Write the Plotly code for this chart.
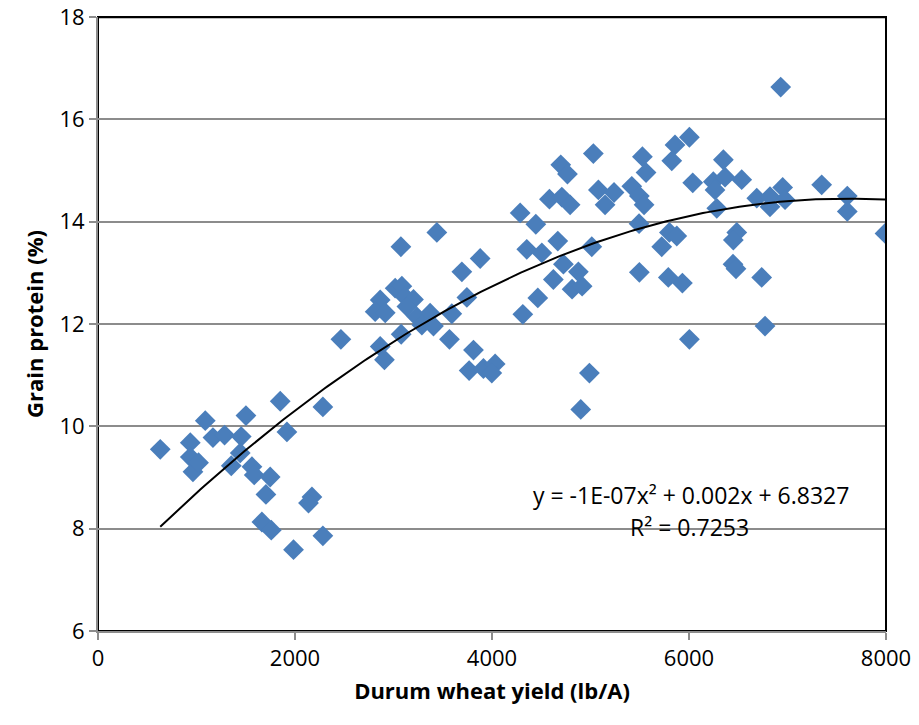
import numpy as np
import plotly.graph_objects as go

# Durum wheat yield (lb/A)
yield_lb = [
    632, 937, 937, 964, 1021, 1089, 1167, 1285, 1454, 1444, 1353, 1502, 1850, 1918,
    2283, 1563, 1586, 1748, 1705, 2172, 2137, 1664, 1759, 1985, 2283, 2466,
    2865, 2908, 3075, 3440, 2865, 2814, 2916, 3017, 3085, 3119, 3203, 3136, 3237,
    3372, 3288, 3406, 3078, 3592, 3568, 3694, 3880, 3745, 3812, 3768, 3913, 4032,
    3998, 4286, 4445, 4353, 4506, 4668, 4725, 4623, 4465, 4313, 4813, 4915, 4877,
    5013, 4989, 4901,
    5029, 4698, 4766, 4583, 4709, 4793, 5080, 5239, 5148, 5419, 5496, 5544, 5527,
    5564, 5858, 5825, 6004, 6038, 6247, 6349, 6264, 6282, 5493, 5496, 5801, 5876,
    5723, 5790, 5933, 6004,
    6931, 6366, 6535, 6688, 6822, 6822, 6951, 6975, 7347, 7607, 7607, 7990, 6485,
    6450, 6447, 6477, 6738, 6772,
]

# Grain protein (%)
protein = [
    9.55, 9.68, 9.40, 9.11, 9.29, 10.11, 9.78, 9.83, 9.80, 9.48, 9.23, 10.21, 10.49, 9.89,
    10.38, 9.21, 9.05, 9.01, 8.67, 8.62, 8.50, 8.13, 7.97, 7.59, 7.86, 11.70,
    11.56, 11.30, 13.51, 13.79, 12.47, 12.24, 12.22, 12.70, 12.74, 12.53, 12.48, 12.34, 12.14,
    12.21, 11.98, 11.96, 11.80, 12.20, 11.70, 13.02, 13.28, 12.52, 11.49, 11.09, 11.13, 11.22,
    11.04, 14.17, 13.95, 13.46, 13.39, 13.62, 13.17, 12.87, 12.51, 12.19, 12.68, 12.74, 13.02,
    13.51, 11.04, 10.33,
    15.33, 15.11, 14.93, 14.44, 14.48, 14.33, 14.62, 14.57, 14.33, 14.69, 14.50, 14.33, 15.27,
    14.96, 15.50, 15.19, 15.65, 14.76, 14.78, 15.21, 14.62, 14.26, 13.96, 13.01, 13.79, 13.72,
    13.51, 12.91, 12.80, 11.70,
    16.63, 14.87, 14.82, 14.46, 14.29, 14.49, 14.67, 14.43, 14.72, 14.50, 14.20, 13.77, 13.79,
    13.64, 13.17, 13.08, 12.91, 11.96,
]

x_ticks = [0, 2000, 4000, 6000, 8000]
y_ticks = [6, 8, 10, 12, 14, 16, 18]
equation_text = "y = -1E-07x² + 0.002x + 6.8327"
r2_text = "R² = 0.7253"
x_title = "Durum wheat yield (lb/A)"
y_title = "Grain protein (%)"

FONT = "Open Sans"
GRID = "#8c8c8c"

# Polynomial (order 2) trendline fitted to the data
coef = np.polyfit(yield_lb, protein, 2)
xs = np.linspace(min(yield_lb), max(yield_lb), 200)
ys = np.polyval(coef, xs)

fig = go.Figure()
fig.add_trace(go.Scatter(
    x=yield_lb, y=protein, mode="markers",
    marker=dict(symbol="diamond", size=16, color="#4a7ebb", line=dict(width=0)),
    showlegend=False, hoverinfo="x+y",
))
fig.add_trace(go.Scatter(
    x=xs, y=ys, mode="lines", line=dict(color="black", width=2),
    showlegend=False, hoverinfo="skip",
))

fig.add_annotation(x=0.7527, y=0.2212, xref="paper", yref="paper", text=equation_text,
                   showarrow=False, font=dict(family=FONT, size=23, color="black"),
                   xanchor="center", yanchor="middle")
fig.add_annotation(x=0.751, y=0.169, xref="paper", yref="paper", text=r2_text,
                   showarrow=False, font=dict(family=FONT, size=23, color="black"),
                   xanchor="center", yanchor="middle")

# plot-area frame (black on top and right; left/bottom are covered by the gray axis lines)
fig.add_shape(type="rect", xref="paper", yref="paper", x0=0, x1=1, y0=0, y1=1,
              line=dict(color="black", width=2), fillcolor="rgba(0,0,0,0)", layer="below")
fig.add_shape(type="line", xref="paper", yref="paper", x0=0, x1=1, y0=0.9995, y1=0.9995,
              line=dict(color="black", width=2), layer="above")
fig.add_shape(type="line", xref="paper", yref="paper", x0=1, x1=1, y0=0, y1=1,
              line=dict(color="black", width=2), layer="above")

fig.update_xaxes(
    range=[0, 8000], tickvals=x_ticks, ticks="outside", ticklen=7, tickwidth=2,
    tickcolor=GRID, showline=True, linecolor=GRID, linewidth=2, showgrid=False,
    zeroline=False, automargin=False, ticklabeloverflow="allow",
    tickfont=dict(family=FONT, size=22, color="black"),
    title=dict(text="<b>" + x_title + "</b>", font=dict(family=FONT, size=22, color="black"),
               standoff=12),
)
fig.update_yaxes(
    range=[6, 18], tickvals=y_ticks, ticks="outside", ticklen=7, tickwidth=2,
    tickcolor=GRID, showline=True, linecolor=GRID, linewidth=2, showgrid=True,
    gridcolor=GRID, gridwidth=2, zeroline=False, automargin=False,
    ticklabeloverflow="allow",
    tickfont=dict(family=FONT, size=22, color="black"),
    title=dict(text="<b>" + y_title + "</b>", font=dict(family=FONT, size=22, color="black"),
               standoff=10),
)

fig.update_layout(
    width=919, height=725,
    margin=dict(l=98, r=33, t=17, b=94),
    plot_bgcolor="white", paper_bgcolor="white",
    font=dict(family=FONT, color="black"),
)

# remove the page's default 8px body margin so the figure fills the window exactly
fig.write_html("out.html", config={"displayModeBar": False},
               post_script="document.body.style.margin='0';document.body.style.overflow='hidden';")
